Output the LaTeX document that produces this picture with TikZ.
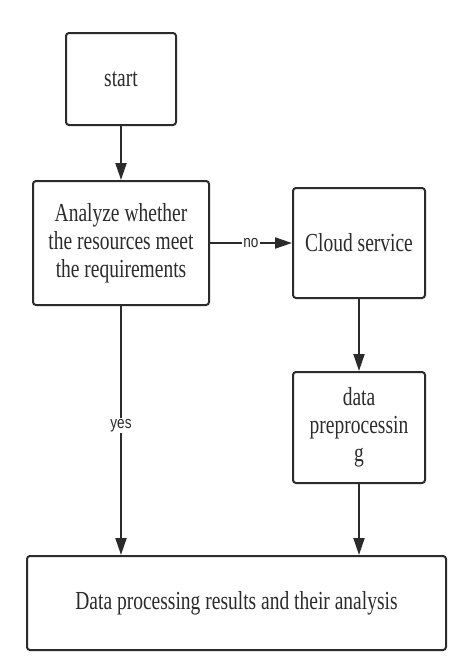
\documentclass[tikz,border=0pt]{standalone}
\usepackage{fontspec}
\setmainfont{Liberation Serif}[FakeStretch=0.75]
\newfontfamily\lblfont{Liberation Sans}[FakeStretch=0.8]
\usetikzlibrary{arrows.meta}
\definecolor{ink}{HTML}{2B2B2B}
\tikzset{
  box/.style={draw=ink, line width=2pt, rounded corners=3pt, inner sep=0pt,
    align=center, text=ink, font=\fontsize{26}{28}\selectfont},
  arr/.style={draw=ink, line width=2pt, -{Triangle[length=17pt,width=11pt]}},
  lbl/.style={fill=white, inner sep=1pt, text=ink, font=\lblfont\fontsize{17}{18}\selectfont}
}
\begin{document}
\begin{tikzpicture}[x=1pt,y=-1pt]
\useasboundingbox (0,0) rectangle (474,670);
\node[box, minimum width=110pt, minimum height=92pt] (start) at (121,79) {start};
\node[box, minimum width=176pt, minimum height=124pt] (analyze) at (121,243)
  {Analyze whether\\the resources meet\\the requirements};
\node[box, minimum width=132pt, minimum height=110pt] (cloud) at (359,243) {Cloud service};
\node[box, minimum width=132pt, minimum height=111pt] (prep) at (359,427.5)
  {data\\preprocessin\\g};
\node[box, minimum width=419pt, minimum height=94pt] (result) at (236.5,603)
  {Data processing results and their analysis};
\draw[arr] (start) -- (analyze);
\draw[arr] (analyze) -- node[lbl]{no} (cloud);
\draw[arr] (analyze) -- node[lbl, pos=0.48]{yes} (analyze.south |- result.north);
\draw[arr] (cloud) -- (prep);
\draw[arr] (prep) -- (prep.south |- result.north);
\end{tikzpicture}
\end{document}
